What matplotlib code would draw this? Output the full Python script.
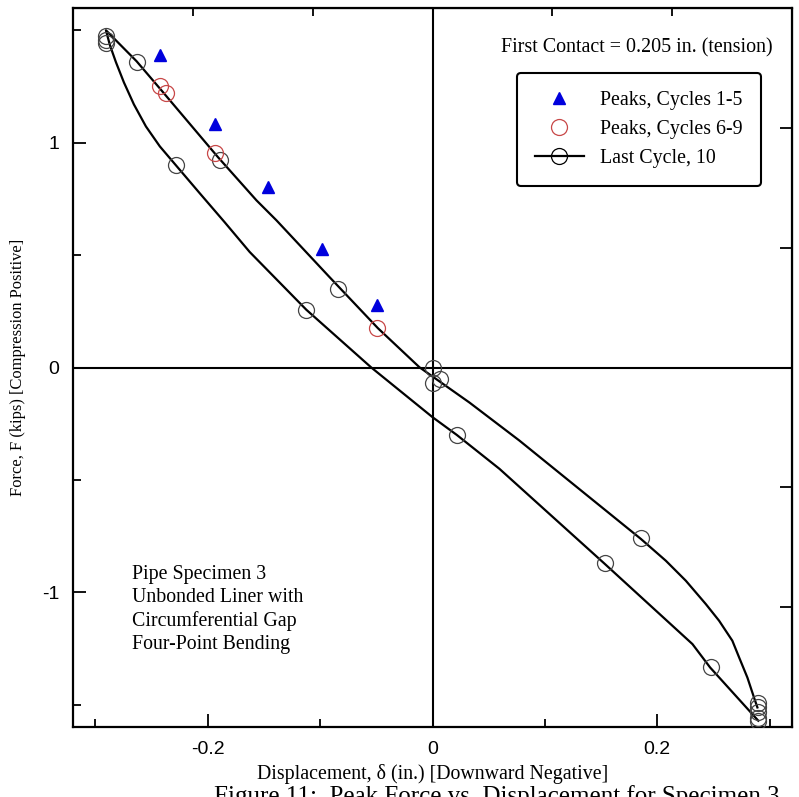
import numpy as np
import matplotlib
matplotlib.use('Agg')
import matplotlib.pyplot as plt
from matplotlib.lines import Line2D

# peaks, cycles 1-5 (blue triangles)
peaks15_x = [-0.243, -0.194, -0.146, -0.098, -0.049]
peaks15_y = [1.393, 1.083, 0.802, 0.526, 0.280]

# peaks, cycles 6-9 (red circles)
peaks69_x = [-0.243, -0.237, -0.194, -0.049]
peaks69_y = [1.253, 1.222, 0.953, 0.175]

# last cycle (10): loop path, from lower right up the upper branch to the apex,
# then back down the lower branch
loop_x = [0.2892, 0.2862, 0.2803, 0.2729, 0.2669, 0.2551, 0.2433, 0.2255, 0.2077,
          0.1855, 0.0773, 0.0329, -0.0116,
          -0.0486, -0.0916, -0.1389, -0.1567, -0.1911, -0.2400, -0.2634, -0.2907,
          -0.2871, -0.2818, -0.2747, -0.2658, -0.2551, -0.2427, -0.2284, -0.2071,
          -0.1849, -0.1627, -0.1123, -0.0545, 0.0, 0.0216, 0.0596, 0.1529, 0.2314,
          0.2471, 0.2900]
loop_y = [-1.513, -1.469, -1.380, -1.290, -1.216, -1.127, -1.053, -0.949, -0.860,
          -0.763, -0.325, -0.156, 0.001,
          0.175, 0.402, 0.655, 0.744, 0.937, 1.226, 1.363, 1.501,
          1.434, 1.359, 1.269, 1.171, 1.073, 0.984, 0.900, 0.775,
          0.646, 0.514, 0.257, 0.0, -0.221, -0.300, -0.451, -0.872, -1.231,
          -1.335, -1.572]

# circle markers on the last cycle
last_x = [-0.2907, -0.2907, -0.2907, -0.2634, -0.2284, -0.1893, -0.1123, -0.0842,
          0.0, 0.0068, 0.0, 0.0216, 0.1535, 0.1855, 0.2477,
          0.290, 0.290, 0.290, 0.290, 0.290]
last_y = [1.475, 1.457, 1.443, 1.360, 0.900, 0.925, 0.257, 0.351,
          0.0, -0.050, -0.070, -0.300, -0.872, -0.760, -1.332,
          -1.491, -1.513, -1.532, -1.558, -1.572]

serif = 'Liberation Serif'
sans = 'Liberation Sans'

fig = plt.figure(figsize=(7.99, 7.97), dpi=100)
ax = fig.add_axes([73/799, 70/797, 719/799, 719/797])

ax.axhline(0, color='black', lw=1.5, zorder=1)
ax.axvline(0, color='black', lw=1.5, zorder=1)

ax.plot(loop_x, loop_y, color='black', lw=1.6, zorder=3)
ax.plot(last_x, last_y, ls='none', marker='o', ms=11.5, mfc='none',
        mec='#444444', mew=0.9, zorder=4)
ax.plot(peaks69_x, peaks69_y, ls='none', marker='o', ms=11.5, mfc='none',
        mec='#c84848', mew=0.9, zorder=4)
ax.plot(peaks15_x, peaks15_y, ls='none', marker='^', ms=9, color='#0000dd',
        mec='#0000dd', zorder=5)

ax.set_xlim(-0.32, 0.32)
ax.set_ylim(-1.6, 1.6)
ax.set_xticks([-0.2, 0, 0.2])
ax.set_xticklabels(['-0.2', '0', '0.2'])
ax.set_xticks([-0.3, -0.1, 0.1, 0.3], minor=True)
ax.set_yticks([-1, 0, 1])
ax.set_yticklabels(['-1', '0', '1'])
ax.set_yticks([-1.5, -0.5, 0.5, 1.5], minor=True)
ax.tick_params(which='major', direction='in', length=9.5, width=1.3, pad=10,
               top=False, right=False)
ax.tick_params(which='minor', direction='in', length=5.5, width=1.3,
               top=False, right=False)
for lab in ax.get_xticklabels() + ax.get_yticklabels():
    lab.set_family(sans)
    lab.set_fontsize(14)
for sp in ax.spines.values():
    sp.set_linewidth(1.6)

# unlabelled ticks on the top and right frame
top = ax.secondary_xaxis('top', functions=(lambda x: x / 0.32 * 3, lambda u: u * 0.32 / 3))
top.set_xticks([-2, -1, 1, 2])
top.tick_params(direction='in', length=6, width=1.3, labeltop=False)
right = ax.secondary_yaxis('right', functions=(lambda y: y / 1.6 * 3, lambda u: u * 1.6 / 3))
right.set_yticks([-2, -1, 1, 2])
right.tick_params(direction='in', length=9, width=1.3, labelright=False)

ax.set_xlabel('Displacement, δ (in.) [Downward Negative]', family=serif, fontsize=14.3)
ax.xaxis.set_label_coords(0.5, -0.052)
ax.set_ylabel('Force, F (kips) [Compression Positive]', family=serif, fontsize=11.9)
ax.yaxis.set_label_coords(-0.066, 0.5)

ax.text(0.9736, 0.944, 'First Contact = 0.205 in. (tension)', transform=ax.transAxes,
        ha='right', va='center', family=serif, fontsize=14.4)
ax.text(0.082, 0.226, 'Pipe Specimen 3\nUnbonded Liner with\nCircumferential Gap\nFour-Point Bending',
        transform=ax.transAxes, ha='left', va='top', family=serif, fontsize=14.3,
        linespacing=1.3)

handles = [
    Line2D([], [], ls='none', marker='^', ms=9, color='#0000dd'),
    Line2D([], [], ls='none', marker='o', ms=11.5, mfc='none', mec='#c84848', mew=0.9),
    Line2D([], [], color='black', lw=1.6, marker='o', ms=11.5, mfc='none', mec='black', mew=0.9),
]
labels = ['Peaks, Cycles 1-5', 'Peaks, Cycles 6-9', 'Last Cycle, 10']
leg = ax.legend(handles, labels, loc='upper left', bbox_to_anchor=(0.6175, 0.9096),
                borderaxespad=0, prop={'family': serif, 'size': 14.3}, frameon=True,
                fancybox=True, handlelength=2.45, handletextpad=0.85, borderpad=0.9,
                labelspacing=0.5)
leg.get_frame().set_edgecolor('black')
leg.get_frame().set_linewidth(1.5)
leg.get_frame().set_alpha(1)

fig.text(0.622, -6/797, 'Figure 11:  Peak Force vs. Displacement for Specimen 3',
         ha='center', va='baseline', family=serif, fontsize=18)

fig.savefig('out.png', dpi=100)
